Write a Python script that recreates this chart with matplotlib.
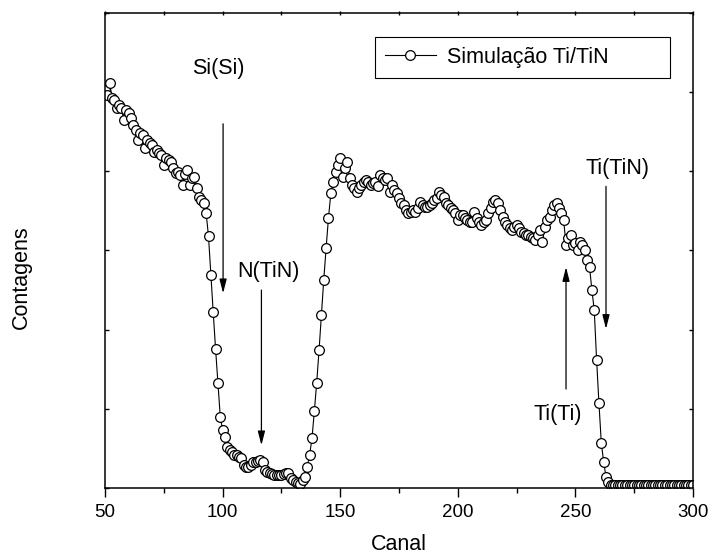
import numpy as np
import matplotlib
matplotlib.use("Agg")
import matplotlib.pyplot as plt
from matplotlib.ticker import MultipleLocator

plt.rcParams['font.family'] = ['Liberation Sans', 'DejaVu Sans']

# channel numbers (one point per channel)
canal = np.arange(50, 301)

# simulated counts (arbitrary units)
contagens = [
    5030, 4960, 5110, 4930, 4900, 4800, 4840, 4800, 4650, 4770,   # 50-59
    4740, 4670, 4580, 4520, 4390, 4480, 4460, 4290, 4390, 4360,   # 60-69
    4330, 4240, 4270, 4230, 4200, 4080, 4170, 4140, 4120, 4040,   # 70-79
    3980, 3990, 3950, 3830, 3960, 4020, 3830, 3910, 3930, 3790,   # 80-89
    3670, 3640, 3600, 3470, 3180, 2690, 2220, 1760, 1330, 900,    # 90-99
    730, 640, 520, 480, 450, 420, 420, 390, 380, 290,             # 100-109
    270, 270, 290, 330, 330, 340, 350, 330, 230, 200,             # 110-119
    190, 180, 160, 160, 160, 160, 180, 190, 190, 130,             # 120-129
    100, 80, 60, 50, 100, 140, 270, 420, 630, 970,                # 130-139
    1330, 1740, 2180, 2630, 3030, 3410, 3720, 3860, 3990, 4080,   # 140-149
    4170, 3930, 4040, 4120, 3910, 3830, 3790, 3740, 3790, 3830,   # 150-159
    3860, 3890, 3860, 3830, 3850, 3860, 3810, 3950, 3910, 3890,   # 160-169
    3910, 3740, 3830, 3760, 3720, 3660, 3600, 3570, 3510, 3470,   # 170-179
    3490, 3510, 3490, 3540, 3610, 3570, 3550, 3550, 3570, 3600,   # 180-189
    3640, 3660, 3740, 3700, 3680, 3600, 3570, 3540, 3510, 3470,   # 190-199
    3380, 3450, 3450, 3410, 3380, 3360, 3360, 3490, 3410, 3360,   # 200-209
    3320, 3360, 3380, 3470, 3540, 3610, 3640, 3600, 3510, 3420,   # 210-219
    3360, 3320, 3280, 3260, 3300, 3320, 3280, 3230, 3220, 3200,   # 220-229
    3200, 3170, 3160, 3130, 3200, 3260, 3110, 3300, 3380, 3420,   # 230-239
    3510, 3570, 3600, 3540, 3470, 3380, 3070, 3160, 3200, 3070,   # 240-249
    3090, 3010, 3110, 3070, 3010, 2880, 2790, 2500, 2250, 1620,   # 250-259
    1070, 570, 330, 140, 80, 40, 40, 40, 40, 40,                  # 260-269
    40, 40, 40, 40, 40, 40, 40, 40, 40, 40,                       # 270-279
    40, 40, 40, 40, 40, 40, 40, 40, 40, 40,                       # 280-289
    40, 40, 40, 40, 40, 40, 40, 40, 40, 40,                       # 290-299
    40,                                                           # 300
]

# peak labels: text, text position, arrow start, arrow tip
rotulos = ["Si(Si)", "N(TiN)", "Ti(TiN)", "Ti(Ti)"]
pos_texto = [(98, 5300), (119.3, 2730), (268, 4040), (242.4, 930)]
seta_inicio = [(100.2, 4600), (116.5, 2500), (263, 3810), (246, 1250)]
seta_fim = [(100.2, 2460), (116.5, 540), (263, 2010), (246, 2790)]

fig = plt.figure(figsize=(7.1, 5.55), dpi=100)
ax = fig.add_axes([0.1479, 0.1207, 0.8282, 0.8559])

ax.plot(canal, contagens, color='black', lw=0.8, marker='o', ms=7.0,
        mfc='white', mec='black', mew=0.9, label='Simulação Ti/TiN')

for txt, tp, a0, a1 in zip(rotulos, pos_texto, seta_inicio, seta_fim):
    ax.text(tp[0], tp[1], txt, fontsize=15.5, ha='center', va='center')
    ax.annotate('', xy=a1, xytext=a0,
                arrowprops=dict(arrowstyle='-|>,head_length=0.7,head_width=0.18',
                                color='black', lw=0.9, mutation_scale=12,
                                shrinkA=0, shrinkB=0))

ax.set_xlim(50, 300)
ax.set_ylim(0, 6000)
ax.xaxis.set_major_locator(MultipleLocator(50))
ax.xaxis.set_minor_locator(MultipleLocator(25))
ax.yaxis.set_major_locator(MultipleLocator(1000))
ax.set_yticklabels([])

ax.tick_params(axis='x', which='major', direction='out', length=6.5, width=1.0,
               labelsize=13.5, pad=5, top=False)
ax.tick_params(axis='x', which='minor', direction='out', length=3.5, width=1.0, top=False)
ax.tick_params(axis='y', which='major', direction='in', length=3, width=1.0,
               right=True)

# small tick marks on the top spine
sec = ax.secondary_xaxis('top')
sec.xaxis.set_major_locator(MultipleLocator(50))
sec.xaxis.set_minor_locator(MultipleLocator(25))
sec.tick_params(which='both', direction='inout', length=3, width=1.0, labeltop=False)
sec.spines['top'].set_visible(False)

for s in ax.spines.values():
    s.set_linewidth(1.1)

ax.set_xlabel('Canal', fontsize=15.5)
ax.set_ylabel('Contagens', fontsize=15.5)
ax.xaxis.set_label_coords(0.5, -0.097)
ax.yaxis.set_label_coords(-0.125, 0.444)

leg = ax.legend(loc='upper left', bbox_to_anchor=(0.459, 0.872, 0.502, 0.077),
                mode='expand', borderaxespad=0, fontsize=15.5, fancybox=False,
                edgecolor='black', framealpha=1, handlelength=2.4,
                handletextpad=0.5, borderpad=0.45)
leg.get_frame().set_linewidth(0.8)

fig.savefig('out.png', dpi=100)
